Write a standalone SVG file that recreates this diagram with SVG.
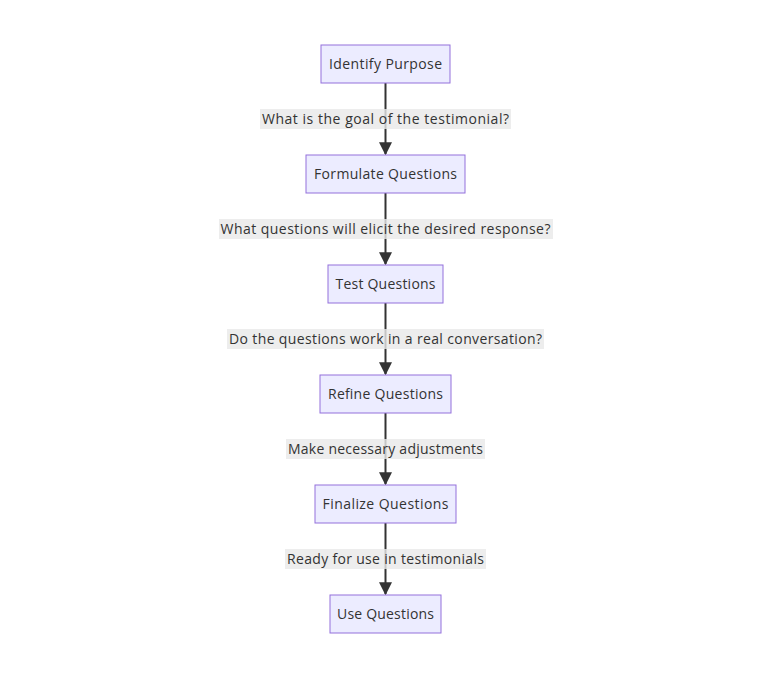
<svg xmlns="http://www.w3.org/2000/svg" width="768" height="680" viewBox="0 0 768 680">
<style>
.node rect{fill:#ECECFF;stroke:#9370DB;stroke-width:1}
.node text{font-family:"Open Sans","Liberation Sans",Arial,sans-serif;font-size:14px;fill:#333;text-anchor:middle;dominant-baseline:central}
.lbl rect{fill:#e8e8e8;opacity:0.8}
.lbl text{font-family:"Open Sans","Liberation Sans",Arial,sans-serif;font-size:14px;fill:#333;text-anchor:middle;dominant-baseline:central}
.edge{stroke:#333;stroke-width:2;fill:none}
</style>
<defs>
<marker id="arr" viewBox="0 0 10 10" refX="9" refY="5" markerWidth="13" markerHeight="13" markerUnits="userSpaceOnUse" orient="auto">
<path d="M0,0 L10,5 L0,10 z" fill="#333"/>
</marker>
</defs>
<rect width="768" height="680" fill="#fff"/>
<g id="edges">
<line class="edge" x1="385.5" y1="83" x2="385.5" y2="154" marker-end="url(#arr)"/>
<line class="edge" x1="385.5" y1="193" x2="385.5" y2="264" marker-end="url(#arr)"/>
<line class="edge" x1="385.5" y1="303" x2="385.5" y2="374" marker-end="url(#arr)"/>
<line class="edge" x1="385.5" y1="413" x2="385.5" y2="484" marker-end="url(#arr)"/>
<line class="edge" x1="385.5" y1="523" x2="385.5" y2="594" marker-end="url(#arr)"/>
<g class="lbl"><rect x="260" y="109" width="251" height="20"/><text x="385.5" y="118.5" textLength="247">What is the goal of the testimonial?</text></g>
<g class="lbl"><rect x="219" y="219" width="334" height="20"/><text x="385.5" y="228.5" textLength="330">What questions will elicit the desired response?</text></g>
<g class="lbl"><rect x="227" y="329" width="317" height="20"/><text x="385.5" y="338.5" textLength="313">Do the questions work in a real conversation?</text></g>
<g class="lbl"><rect x="286" y="439" width="199" height="20"/><text x="385.5" y="448.5" textLength="195">Make necessary adjustments</text></g>
<g class="lbl"><rect x="285" y="549" width="201" height="20"/><text x="385.5" y="558.5" textLength="197">Ready for use in testimonials</text></g>
</g>
<g id="n1" class="node"><rect x="321" y="45" width="129" height="38"/><text x="385.5" y="63.5" textLength="113">Identify Purpose</text></g>
<g id="n2" class="node"><rect x="306" y="155" width="159" height="38"/><text x="385.5" y="173.5" textLength="143">Formulate Questions</text></g>
<g id="n3" class="node"><rect x="328" y="265" width="115" height="38"/><text x="385.5" y="283.5" textLength="100">Test Questions</text></g>
<g id="n4" class="node"><rect x="320" y="375" width="131" height="38"/><text x="385.5" y="393.5" textLength="115">Refine Questions</text></g>
<g id="n5" class="node"><rect x="315" y="485" width="141" height="38"/><text x="385.5" y="503.5" textLength="126">Finalize Questions</text></g>
<g id="n6" class="node"><rect x="330" y="595" width="111" height="38"/><text x="385.5" y="613.5" textLength="97">Use Questions</text></g>
</svg>
